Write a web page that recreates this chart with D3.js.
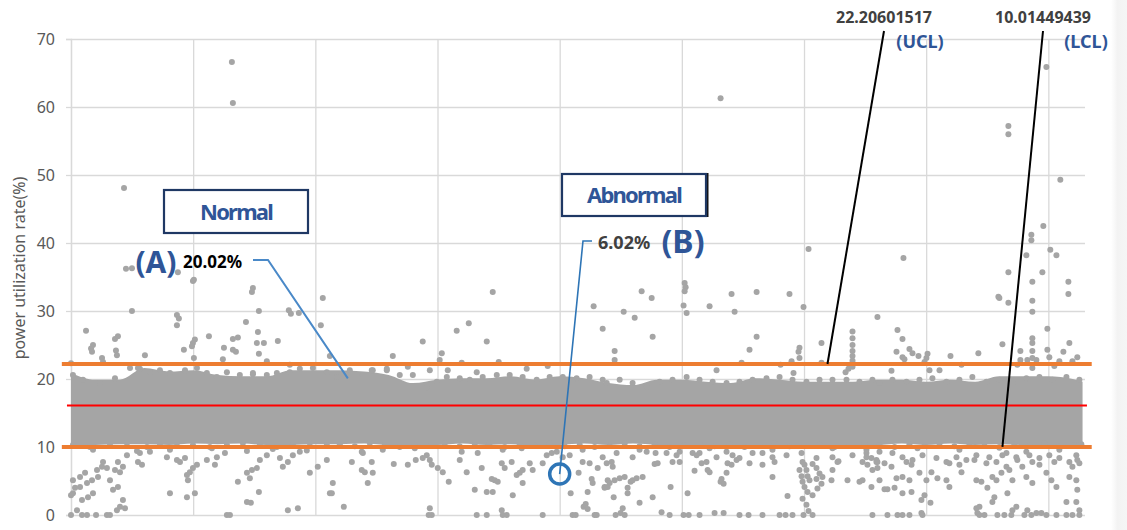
<!DOCTYPE html>
<html>
<head>
<meta charset="utf-8">
<script src="https://cdn.jsdelivr.net/npm/d3@7"></script>
<style>
  body { margin: 0; background: #fff; }
  svg  { display: block; }
</style>
</head>
<body>
<svg id="chart"></svg>
<script>
/* ── control limits ── */
const UCL = 22.20601517;
const LCL = 10.01449439;
const CL  = (UCL + LCL) / 2;

const Y_TICKS = [0, 10, 20, 30, 40, 50, 60, 70];
const X_GRID  = [0, 1000, 2000, 3000, 4000, 5000, 6000, 7000, 8000];
const X_MAX   = 8300;

/* ── dense band of readings (observation, upper edge, lower edge) ── */
const BAND_OBS    = [0, 200, 400, 600, 800, 1000, 1200, 1400, 1600, 1800, 2000, 2200, 2400, 2600, 2800, 3000, 3200, 3400, 3600, 3800, 4000, 4200, 4400, 4600, 4800, 5000, 5200, 5400, 5600, 5800, 6000, 6200, 6400, 6600, 6800, 7000, 7200, 7400, 7600, 7800, 8000, 8200, 8280];
const BAND_TOP    = [20.9, 19.9, 19.9, 21.6, 21.1, 21.3, 20.6, 20.4, 20.4, 21.3, 21.3, 21.3, 21.1, 20.6, 19.4, 19.9, 20.1, 20.1, 20.4, 19.9, 20.4, 20.1, 19.4, 19.1, 19.9, 19.9, 19.6, 19.4, 20.1, 19.9, 19.6, 19.6, 19.6, 19.9, 19.9, 19.6, 19.9, 19.6, 20.4, 20.4, 20.4, 20.0, 19.6];
const BAND_BOTTOM = [10.2, 10.3, 10.4, 10.4, 10.3, 10.5, 10.4, 10.5, 10.3, 10.3, 10.4, 10.4, 10.5, 10.3, 10.3, 10.3, 10.5, 10.3, 10.4, 10.2, 10.3, 10.5, 10.3, 10.5, 10.3, 10.2, 10.3, 10.2, 10.3, 10.2, 10.2, 10.3, 10.3, 10.3, 10.5, 10.3, 10.5, 10.3, 10.4, 10.3, 10.2, 10.3, 10.3];

/* ── ragged dots along the band's upper edge [observation, %] ── */
const TOP_EDGE = [
  [16,20.6],[98,19.9],[237,19.4],[360,20.1],[483,21.6],[564,21.5],[646,21.0],[728,21.3],[810,20.9],[933,21.3],
  [1031,21.6],[1112,20.9],[1194,20.3],[1276,21.0],[1382,20.6],[1489,20.7],[1603,20.6],[1685,20.9],[1791,21.0],[1873,21.5],
  [1980,21.6],[2094,21.0],[2176,20.3],[2282,21.3],[2389,20.6],[2470,21.3],[2585,21.5],[2691,20.6],[2798,20.6],[2912,18.8],
  [2994,19.6],[3076,20.3],[3182,20.1],[3264,19.9],[3370,20.3],[3485,20.6],[3591,20.6],[3697,20.3],[3812,19.9],[3918,20.3],
  [4025,20.3],[4139,20.1],[4245,20.3],[4352,19.9],[4385,19.4],[4491,19.9],[4597,19.4],[4712,18.8],[4818,19.6],[4924,19.9],
  [5039,20.3],[5145,19.9],[5252,19.6],[5366,19.4],[5472,19.6],[5579,19.9],[5693,20.1],[5800,20.3],[5906,19.9],[6020,19.6],
  [6127,19.9],[6233,19.9],[6348,19.9],[6454,19.6],[6560,19.9],[6618,19.4],[6724,19.9],[6839,19.6],[6945,19.9],[7051,20.1],
  [7166,19.6],[7272,19.9],[7378,20.3],[7493,19.6],[7599,19.9],[7706,19.4],[7820,20.1],[7869,21.6],[7927,20.3],[8033,19.9],
  [8148,20.3],[8254,19.9]
];

/* ── ragged dots along the band's lower edge [observation, %] ── */
const BOTTOM_EDGE = [
  [16,10.3],[155,10.0],[319,10.3],[458,10.6],[622,10.0],[728,10.3],[867,10.6],[998,10.3],[1137,10.0],[1276,10.3],
  [1407,10.6],[1546,10.3],[1685,10.0],[1816,10.3],[1955,10.6],[2094,10.3],
  [2200,10.4],[2323,10.1],[2446,10.6],[2569,10.3],[2691,10.0],[2814,10.4],[2937,10.2],[3059,10.5],[3182,10.1],[3305,10.3],
  [3427,10.6],[3550,10.0],[3673,10.4],[3796,10.2],[3918,10.5],[4041,10.1],[4164,10.3],[4286,10.0],
  [4409,10.2],[4532,10.5],[4654,10.1],[4777,10.4],[4900,10.0],[5023,10.3],[5145,10.6],[5268,10.1],[5391,10.4],[5513,10.0],
  [5636,10.3],[5759,10.5],[5881,10.1],[6004,10.2],[6127,10.4],[6250,10.0],[6372,10.3],[6495,10.5],
  [6618,10.3],[6741,10.0],[6863,10.4],[6986,10.2],[7109,10.5],[7231,10.1],[7354,10.3],[7477,10.6],[7599,10.0],[7722,10.4],
  [7845,10.2],[7967,10.5],[8090,10.1],[8213,10.3],[8270,10.4]
];

/* ── fringe just under the lower limit [observation, %] ── */
const LOW_FRINGE = [
  [4466,9.1],[4597,8.5],[4712,9.3],[4957,8.8],[5088,9.1],[5284,8.5],[5366,9.3],[5579,9.1],[5742,8.5],[5857,8.8],
  [6233,8.5],[6397,8.8],[6511,9.1],
  [6511,8.5],[6593,7.8],[6724,9.1],[6806,8.5],[6888,8.1],[6970,8.8],[7084,8.4],[7166,7.8],[7248,8.5],[7329,8.1],
  [7411,8.8],[7517,8.5],[7575,7.8],[7657,9.1],[7738,8.5],[7845,8.8],[7927,8.4],[8008,8.8],[8090,8.4],[8172,7.8],
  [8229,8.8],[8254,7.6]
];

/* ── scattered readings above the band [observation, %] ── */
const HIGH_POINTS = [
  [123,27.1],[164,24.5],[180,25.0],[172,24.0],[360,25.9],[384,26.3],[368,24.2],[376,23.5],[254,23.1],[605,23.5],
  [867,29.4],[883,28.9],[867,27.9],[924,24.3],[998,25.3],[1014,25.8],[990,24.8],[1006,23.1],[1129,26.3],[1252,24.6],
  [1325,25.9],[1366,26.1],[1325,24.3],[1350,24.0],[1243,22.9],[1481,32.8],[1538,30.0],[1432,28.4],[1530,26.9],[1521,25.3],
  [1579,25.3],[1538,23.7],[1693,25.6],[1603,22.6],[1783,30.1],[1800,29.6],[1865,29.7],[2061,31.9],[2045,27.9],[2119,23.4],
  [499,30.0],[998,34.4],[434,48.1],[1317,66.6],[1325,60.6],[998,43.2],[450,36.2],[499,36.3],[875,35.7],[1006,34.6],[1489,33.4],
  [0,22.3],[262,22.5],[548,21.6],[1489,20.9],[1791,22.1],
  [3452,32.8],[3256,28.2],[3157,27.1],[2879,25.5],[3403,25.5],[2634,23.4],[3035,23.8],[3018,22.8],[2937,21.3],[3084,21.3],
  [3198,22.4],[3321,21.0],[3501,22.5],[3730,21.5],[3902,21.9],[4278,30.7],[4352,27.4],[2462,21.3],[2585,21.3],[2757,21.8],
  [4671,32.9],[4753,31.9],[5023,34.1],[5031,33.5],[5023,32.9],[5039,29.7],[5014,30.8],[4524,29.9],[4614,29.0],[4450,24.1],
  [4450,22.8],[4761,26.2],[5227,30.7],[5407,32.5],[5432,29.9],[5612,32.8],[5881,32.5],[5996,30.6],[5612,26.2],[5554,24.3],
  [5489,22.4],[5284,21.3],[5808,22.1],[5898,22.6],[5914,20.9],[5963,24.6],[5955,24.0],[5963,23.1],[6143,25.3],[6143,22.4],
  [6340,21.0],[6364,21.5],[6397,27.0],[6397,26.0],[6397,25.0],[6397,24.1],[6397,23.4],[6397,22.7],[6397,21.8],
  [5317,61.3],[6037,39.1],[6601,29.1],[6814,37.8],
  [6765,27.2],[6806,25.9],[6757,24.0],[6806,23.2],[6822,22.9],[6863,24.4],[6888,23.8],[6937,23.4],[7011,23.7],[7002,23.1],
  [6986,22.5],[7027,21.3],[7109,21.3],[7199,23.4],[6716,21.2],[7289,22.1],[7427,23.8],[7591,32.1],[7673,31.2],[7624,25.1],
  [7771,24.1],[7771,22.8],[7746,22.1],[7869,34.3],[7869,31.5],[7869,29.9],[7869,26.0],[7869,25.3],[7869,24.1],[7869,23.1],
  [7828,22.8],[7902,22.8],[7992,27.4],[7992,24.3],[8008,23.2],[8164,34.3],[8164,32.5],[8172,25.3],[8123,24.0],[8090,22.6],
  [8197,22.6],[8237,23.2],[8049,21.9],
  [7984,65.9],[7673,57.2],[7673,56.0],[8098,49.3],[7959,42.5],[7861,41.2],[7861,40.4],[7820,38.2],[8016,39.0],[8066,38.2],
  [7673,35.7],[7951,35.7],[7599,31.9]
];

/* ── scattered readings below the band [observation, %] ── */
const LOW_POINTS = [
  [16,5.1],[33,4.0],[74,5.6],[115,6.2],[131,4.7],[172,5.1],[213,6.6],[221,5.6],[254,7.1],[262,7.8],
  [294,6.9],[180,3.2],[139,2.6],[90,2.2],[16,3.2],[49,0.7],[90,0],[0,0],[131,0],[205,0],
  [294,0],[319,0],[376,0.7],[401,1.2],[442,1.0],[425,2.2],[384,4.1],[344,3.7],[319,5.1],[360,6.6],
  [401,6.3],[425,7.1],[384,7.8],[458,8.8],[548,7.8],[581,7.4],[646,9.3],[564,9.1],[785,8.5],[867,8.1],
  [892,7.8],[933,8.4],[949,5.9],[957,5.1],[973,6.3],[998,6.9],[1031,7.4],[1112,8.1],[1178,7.4],[1194,8.5],
  [1260,9.1],[810,3.2],[949,2.6],[1014,3.2],[1276,0],[1301,0],[1366,4.9],[1440,6.2],[1464,5.4],[1481,6.6],
  [1521,6.9],[1546,8.1],[1440,1.9],[1472,1.8],[1538,3.4],[1603,8.8],[1710,8.4],[1734,7.1],[1775,7.8],[1816,8.8],
  [1873,9.3],[1955,6.2],[1857,1.0],[1775,0.7],[2020,7.1],[2094,8.1],[2119,3.2],[2143,4.7],[0,2.9],[74,4.1],
  [180,9.6],[540,9.4],[810,9.6],[1153,9.8],[1440,9.4],[1652,9.7],[1930,9.5],
  [2389,9.1],[2299,7.8],[2380,6.6],[2405,6.3],[2462,7.8],[2470,6.2],[2429,4.7],[2135,3.2],[2233,1.2],[2642,7.5],
  [2757,7.4],[2822,8.1],[2879,8.4],[2912,8.8],[2937,8.1],[2953,7.4],[3002,6.9],[3043,6.3],[3092,4.9],[2937,1.0],
  [2953,0],[2928,0],[3182,8.1],[3239,6.3],[3305,3.7],[3403,3.4],[3452,3.4],[3444,5.3],[3468,5.1],[3493,4.9],
  [3321,0],[3403,0],[3362,6.9],[3329,9.1],[3526,7.6],[3550,6.9],[3526,0.7],[3534,0],[3567,0],[3607,7.8],
  [3616,2.9],[3648,5.9],[3673,6.2],[3697,6.6],[3697,4.7],[3755,7.6],[3779,6.6],[3861,7.6],[3861,0],[3894,8.8],
  [3935,9.1],[4025,8.5],[4082,8.8],[4090,3.2],[4155,6.2],[4188,7.8],[4245,7.6],[4270,4.7],[4262,5.3],[4229,3.4],
  [4196,1.2],[4229,0.9],[4213,1.6],[4106,0],[4131,0],[4286,0],[4303,0],[4311,6.9],[4368,4.1],[4393,5.1],
  [2380,9.3],[2552,9.6],[2814,9.8],[3198,9.3],[3534,9.6],[3689,9.8],[3976,9.3],[4188,9.6],
  [4352,8.5],[4385,7.6],[4426,7.8],[4434,7.1],[4409,4.7],[4450,5.1],[4393,4.1],[4368,4.0],[4491,5.4],[4532,5.6],
  [4442,2.6],[4516,1.0],[4499,0.3],[4458,0],[4532,0],[4556,4.0],[4581,4.9],[4597,5.1],[4556,3.2],[4630,5.4],
  [4679,5.6],[4654,1.8],[4761,2.6],[4777,7.5],[4802,7.6],[4785,9.1],[4834,0.4],[4900,0],[4908,4.1],[4875,9.1],
  [4924,7.8],[4982,7.8],[5047,3.2],[5014,0],[5056,0],[5104,6.5],[5121,8.8],[5145,9.1],[5211,6.6],[5227,6.3],
  [5162,7.6],[5202,7.8],[5268,0.3],[5342,0.3],[5145,0],[5317,4.9],[5325,5.3],[5342,4.6],[5366,6.2],[5374,7.6],
  [5407,7.4],[5448,8.1],[5472,8.4],[5415,8.8],[5554,7.6],[5472,0],[5546,0],[5660,9.1],[5660,7.4],[5742,5.6],
  [5759,7.8],[5660,0],[5865,2.8],[5800,0],[5849,0],[5906,0],
  [5980,9.1],[5988,7.8],[6004,7.4],[6020,6.6],[5980,5.7],[6029,5.7],[5988,4.9],[6045,5.1],[6004,4.1],[6029,3.4],
  [6070,2.9],[5988,2.4],[6020,1.5],[6037,0.6],[6070,0],[5996,0],[6102,6.9],[6127,6.1],[6102,5.3],[6151,5.6],
  [6110,3.9],[6143,4.6],[6070,7.5],[5963,6.6],[6102,8.4],
  [6225,5.1],[6233,6.6],[6282,7.9],[6356,5.1],[6454,4.9],[6519,7.4],[6593,8.1],[6601,6.9],[6274,7.8],
  [4654,9.6],[4982,9.3],[5227,9.8],[5742,9.6],[6233,9.8],[6511,9.6],
  [6479,7.8],[6552,8.4],[6601,7.8],[6659,7.6],[6560,6.6],[6618,5.1],[6479,5.1],[6552,4.1],[6716,7.1],[6757,5.4],
  [6741,4.0],[6806,5.6],[6863,5.1],[6839,7.8],[6880,7.4],[6659,3.8],[6683,3.8],[6806,3.2],[6880,3.4],[6961,2.2],
  [6863,0],[6806,0],[6765,0],[6560,0],[6683,0],[6945,6.2],[7002,5.1],[7043,6.3],[7092,5.4],[7166,5.1],
  [7190,4.1],[6986,2.9],[7035,1.8],[6961,0.3],[6970,0],[7190,7.6],[7272,7.4],[7289,6.3],[7411,5.1],[7452,4.9],
  [7395,8.1],[7493,7.6],[7501,4.0],[7411,1.0],[7436,1.2],[7419,0.3],[7477,0],[7436,0],[7542,5.6],[7575,5.1],
  [7558,2.6],[7542,1.9],[7624,8.8],[7657,7.1],[7616,6.2],[7665,3.2],[7706,5.1],[7681,6.6],[7706,0.7],[7738,1.2],
  [7583,0],[7640,0],[7697,0],[7787,7.1],[7820,5.6],[7869,4.7],[7746,8.1],[7869,7.8],[7927,7.4],[7828,0.7],
  [7861,0],[7902,0.3],[7804,0],[7984,6.2],[8025,5.1],[8066,4.1],[8148,1.9],[8229,1.9],[8237,3.7],[8229,5.1],
  [8172,5.6],[8197,7.1],[8237,8.1],[7984,0],[8066,0],[8148,0],[8197,0],[8254,0.7],[8254,0],[7943,0.3],[8049,7.8],
  [6618,9.3],[6929,9.8],[7272,9.6],[7599,9.9],[7820,9.3],[8090,9.6]
];

/* ── highlighted readings ── */
const POINT_A = [2266, 20.1];   // normal example, 20.02 %
const POINT_B = [4000, 6.02];   // abnormal example, 6.02 %
const UCL_MARK = 6192;
const LCL_MARK = 7624;

const W = 1127, H = 530;
const FONT = '"Noto Sans", "Liberation Sans", sans-serif';
const GREY = '#A5A5A5';

const svg = d3.select('#chart').attr('width', W).attr('height', H);

const x = d3.scaleLinear().domain([0, X_MAX]).range([71, 1085]);
const y = d3.scaleLinear().domain([0, 70]).range([515, 39]);

/* ── right edge shade ── */
const defs = svg.append('defs');
const grad = defs.append('linearGradient').attr('id', 'edge').attr('x1', 0).attr('x2', 1);
grad.append('stop').attr('offset', 0).attr('stop-color', '#ffffff');
grad.append('stop').attr('offset', 0.4).attr('stop-color', '#f3f3f3');
grad.append('stop').attr('offset', 1).attr('stop-color', '#f5f5f5');
svg.append('rect').attr('x', 1111).attr('y', 0).attr('width', 16).attr('height', H).attr('fill', 'url(#edge)');

/* ── grid ── */
svg.append('g')
  .attr('transform', `translate(${x(0)},0)`)
  .call(d3.axisLeft(y).tickValues(Y_TICKS).tickSizeInner(-(x(X_MAX) - x(0))).tickSizeOuter(0).tickFormat(''))
  .call(g => g.select('.domain').remove())
  .call(g => g.selectAll('.tick line').attr('stroke', '#d9d9d9').attr('stroke-width', 1.3));

svg.append('g')
  .attr('transform', `translate(0,${y(0)})`)
  .call(d3.axisBottom(x).tickValues(X_GRID).tickSizeInner(-(y(0) - y(70))).tickSizeOuter(0).tickFormat(''))
  .call(g => g.select('.domain').remove())
  .call(g => g.selectAll('.tick line').attr('stroke', '#d9d9d9').attr('stroke-width', 1.3));

/* ── y axis labels ── */
svg.append('g')
  .attr('transform', `translate(${x(0)},0)`)
  .call(d3.axisLeft(y).tickValues(Y_TICKS).tickSize(5).tickPadding(11))
  .call(g => g.select('.domain').attr('stroke', '#d9d9d9').attr('stroke-width', 1.3))
  .call(g => g.selectAll('.tick line').attr('stroke', '#d9d9d9').attr('stroke-width', 1.3))
  .call(g => g.selectAll('.tick text')
    .attr('fill', '#595959')
    .attr('font-size', 16)
    .attr('font-family', FONT));

svg.append('text')
  .attr('transform', `translate(25,268) rotate(-90)`)
  .attr('text-anchor', 'middle')
  .attr('fill', '#595959')
  .attr('font-size', 16)
  .attr('font-family', FONT)
  .text('power utilization rate(%)');

/* ── dense band ── */
const band = BAND_OBS.map((o, i) => ({ o, t: BAND_TOP[i], b: BAND_BOTTOM[i] }));
svg.append('path')
  .datum(band)
  .attr('fill', GREY)
  .attr('d', d3.area().x(d => x(d.o)).y0(d => y(d.b)).y1(d => y(d.t)).curve(d3.curveMonotoneX));

/* ── scattered points ── */
svg.append('g')
  .selectAll('circle')
  .data(TOP_EDGE.concat(BOTTOM_EDGE, LOW_FRINGE, HIGH_POINTS, LOW_POINTS))
  .join('circle')
  .attr('cx', d => x(d[0]))
  .attr('cy', d => y(d[1]))
  .attr('r', 3)
  .attr('fill', GREY);

/* ── control lines ── */
svg.append('line')
  .attr('x1', x(-33)).attr('x2', x(8316))
  .attr('y1', y(CL)).attr('y2', y(CL))
  .attr('stroke', '#FF0000').attr('stroke-width', 2);

svg.selectAll('.limit')
  .data([UCL, LCL])
  .join('line')
  .attr('class', 'limit')
  .attr('x1', x(-75)).attr('x2', x(8355))
  .attr('y1', d => y(d)).attr('y2', d => y(d))
  .attr('stroke', '#ED7D31').attr('stroke-width', 4);

/* ── UCL / LCL call-outs ── */
const numStyle = s => s
  .attr('font-family', FONT)
  .attr('font-weight', 700)
  .attr('font-size', 16)
  .attr('fill', '#404040')
  .attr('text-anchor', 'middle');

svg.append('text').call(numStyle).attr('x', 884).attr('y', 23).text(UCL.toFixed(8));
svg.append('text').call(numStyle).attr('x', 1043).attr('y', 23).text(LCL.toFixed(8));

const tagStyle = s => s
  .attr('font-family', FONT)
  .attr('font-weight', 700)
  .attr('font-size', 18)
  .attr('fill', '#2F5597')
  .attr('text-anchor', 'middle');

svg.append('text').call(tagStyle).attr('x', 920).attr('y', 48).text('(UCL)');
svg.append('text').call(tagStyle).attr('x', 1086).attr('y', 48).text('(LCL)');

svg.append('line')
  .attr('x1', 884).attr('y1', 31).attr('x2', x(UCL_MARK)).attr('y2', y(UCL))
  .attr('stroke', '#000').attr('stroke-width', 2);
svg.append('line')
  .attr('x1', 1043).attr('y1', 31).attr('x2', x(LCL_MARK)).attr('y2', y(LCL))
  .attr('stroke', '#000').attr('stroke-width', 2);

/* ── Normal / Abnormal boxes ── */
function labelBox(bx, by, bw, bh, label, shadow) {
  if (shadow) {
    svg.append('line')
      .attr('x1', bx + bw + 1).attr('x2', bx + bw + 1)
      .attr('y1', by - 1).attr('y2', by + bh + 1)
      .attr('stroke', '#111').attr('stroke-width', 3);
  }
  svg.append('rect')
    .attr('x', bx).attr('y', by).attr('width', bw).attr('height', bh)
    .attr('fill', '#fff').attr('stroke', '#1F3864').attr('stroke-width', 2.2);
  svg.append('text')
    .attr('x', bx + bw / 2).attr('y', by + bh / 2 + 8)
    .attr('text-anchor', 'middle')
    .attr('font-family', FONT)
    .attr('font-weight', 700)
    .attr('font-size', 22)
    .attr('letter-spacing', -1.8)
    .attr('fill', '#2F5597')
    .text(label);
}
labelBox(164, 190, 144, 43, 'Normal', false);
labelBox(562, 174, 144, 42, 'Abnormal', true);

/* ── (A) call-out ── */
svg.append('path')
  .attr('d', `M253,260 L268,260 L${x(POINT_A[0])},${y(POINT_A[1])}`)
  .attr('fill', 'none').attr('stroke', '#4A89C8').attr('stroke-width', 2);

svg.append('text')
  .attr('x', 156).attr('y', 273)
  .attr('text-anchor', 'middle')
  .attr('font-family', FONT).attr('font-weight', 700).attr('font-size', 30)
  .attr('fill', '#2F5597')
  .text('(A)');
svg.append('text')
  .attr('x', 183).attr('y', 268)
  .attr('font-family', FONT).attr('font-weight', 700).attr('font-size', 17)
  .attr('fill', '#000')
  .text('20.02%');

/* ── (B) call-out ── */
svg.append('path')
  .attr('d', `M592,241 L583,241 L${x(POINT_B[0])},${y(POINT_B[1])}`)
  .attr('fill', 'none').attr('stroke', '#2E75B6').attr('stroke-width', 1.6);
svg.append('circle')
  .attr('cx', x(POINT_B[0])).attr('cy', y(POINT_B[1]))
  .attr('r', 10)
  .attr('fill', 'none').attr('stroke', '#2E75B6').attr('stroke-width', 3.5);

svg.append('text')
  .attr('x', 598).attr('y', 249)
  .attr('font-family', FONT).attr('font-weight', 700).attr('font-size', 18)
  .attr('fill', '#404040')
  .text('6.02%');
svg.append('text')
  .attr('x', 683).attr('y', 253)
  .attr('text-anchor', 'middle')
  .attr('font-family', FONT).attr('font-weight', 700).attr('font-size', 32)
  .attr('fill', '#2F5597')
  .text('(B)');
</script>
</body>
</html>
